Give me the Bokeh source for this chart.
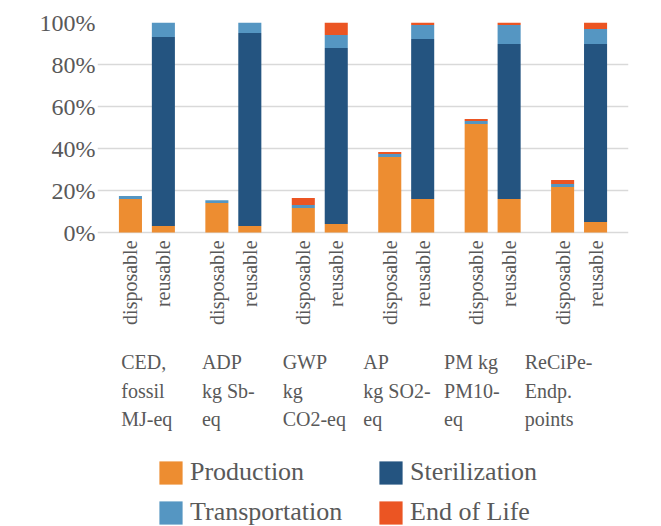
import math
from bokeh.plotting import figure
from bokeh.models import (ColumnDataSource, FactorRange, Range1d, FixedTicker,
                          Legend, LegendItem, PrintfTickFormatter)
from bokeh.core.properties import value
from bokeh.embed import file_html
from bokeh.resources import INLINE

# ---------------- data ----------------
groups = ["CED", "ADP", "GWP", "AP", "PM", "ReCiPe"]
group_labels = ["CED,\nfossil\nMJ-eq", "ADP\nkg Sb-\neq", "GWP\nkg\nCO2-eq",
                "AP\nkg SO2-\neq", "PM kg\nPM10-\neq", "ReCiPe-\nEndp.\npoints"]
variants = ["disposable", "reusable"]
stages = ["Production", "Sterilization", "Transportation", "End of Life"]
colors = ["#ED8D31", "#245480", "#5596C2", "#EB5523"]

# values in %, order: (group, disposable), (group, reusable)
production     = [16.0, 3.1, 14.0, 3.1, 11.7, 4.0, 36.0, 16.0, 51.7, 16.0, 21.7, 5.0]
sterilization  = [0.0, 90.0, 0.0, 91.9, 0.0, 83.9, 0.0, 76.1, 0.0, 73.8, 0.0, 84.8]
transportation = [1.4, 6.9, 1.4, 5.0, 1.4, 6.1, 1.4, 6.7, 1.4, 9.0, 1.4, 7.1]
end_of_life    = [0.0, 0.0, 0.0, 0.0, 3.3, 6.0, 0.9, 1.2, 0.9, 1.2, 1.9, 3.1]
y_ticks = [0, 20, 40, 60, 80, 100]

FONT = "Liberation Serif"
TEXT = "#595959"

# ---------------- layout constants ----------------
Y_MIN = -140          # room under the 0 % baseline for the category texts and legend
VARIANT_LABEL_Y = -3.8
GROUP_LABEL_Y = -56.5
LABEL_X0 = 0.22       # left edge of first group label (synthetic category units)
LABEL_STEP = 2.45

factors = [(g, v) for g in groups for v in variants]
source = ColumnDataSource(data={
    "x": factors,
    "variant": [v for _ in groups for v in variants],
    "Production": production,
    "Sterilization": sterilization,
    "Transportation": transportation,
    "End of Life": end_of_life,
})

x_range = FactorRange(*factors, factor_padding=0.0, group_padding=0.624,
                      range_padding=0.5, range_padding_units="absolute")

p = figure(width=661, height=526, x_range=x_range, y_range=Range1d(Y_MIN, 100),
           output_backend="svg", toolbar_location=None, x_axis_location=None,
           min_border_left=97, min_border_right=33, min_border_top=22,
           min_border_bottom=0)
p.outline_line_color = None
p.background_fill_color = "white"
p.border_fill_color = "white"

renderers = p.vbar_stack(stages, x="x", width=0.7, fill_color=colors,
                         line_color=None, source=source)

# y axis
ya = p.yaxis[0]
ya.ticker = FixedTicker(ticks=y_ticks)
ya.formatter = PrintfTickFormatter(format="%d%%")
ya.major_label_text_font = FONT
ya.major_label_text_font_size = "24px"
ya.major_label_text_color = TEXT
ya.axis_line_color = None
ya.major_tick_line_color = None
ya.minor_tick_line_color = None
ya.major_tick_out = 0
ya.minor_tick_out = 0
ya.major_label_standoff = 2

p.ygrid.grid_line_color = "#d9d9d9"
p.ygrid.grid_line_width = 1.5
p.ygrid.level = "underlay"
p.xgrid.grid_line_color = None

# variant labels under each bar
p.text(x="x", y=VARIANT_LABEL_Y, text="variant", source=source,
       angle=math.pi / 2, text_align="right", text_baseline="middle",
       text_font=value(FONT), text_font_size="20px", text_color=TEXT)

# group labels
label_src = ColumnDataSource(data={
    "x": [LABEL_X0 + i * LABEL_STEP for i in range(len(groups))],
    "text": group_labels,
})
p.text(x="x", y=GROUP_LABEL_Y, text="text", source=label_src,
       text_align="left", text_baseline="top", text_line_height=1.3,
       text_font=value(FONT), text_font_size="20px", text_color=TEXT)

# legend
legend = Legend(items=[LegendItem(label=s, renderers=[r]) for s, r in zip(stages, renderers)],
                orientation="horizontal", ncols=2, location=(59, -1),
                glyph_width=29, glyph_height=29, label_height=29,
                label_standoff=5, label_width=176,
                spacing=10, padding=0, margin=0,
                label_text_font=FONT, label_text_font_size="26px",
                label_text_color=TEXT, label_text_baseline="middle",
                border_line_color=None, background_fill_alpha=0)
p.add_layout(legend)

open("out.html", "w").write(file_html(p, INLINE))
